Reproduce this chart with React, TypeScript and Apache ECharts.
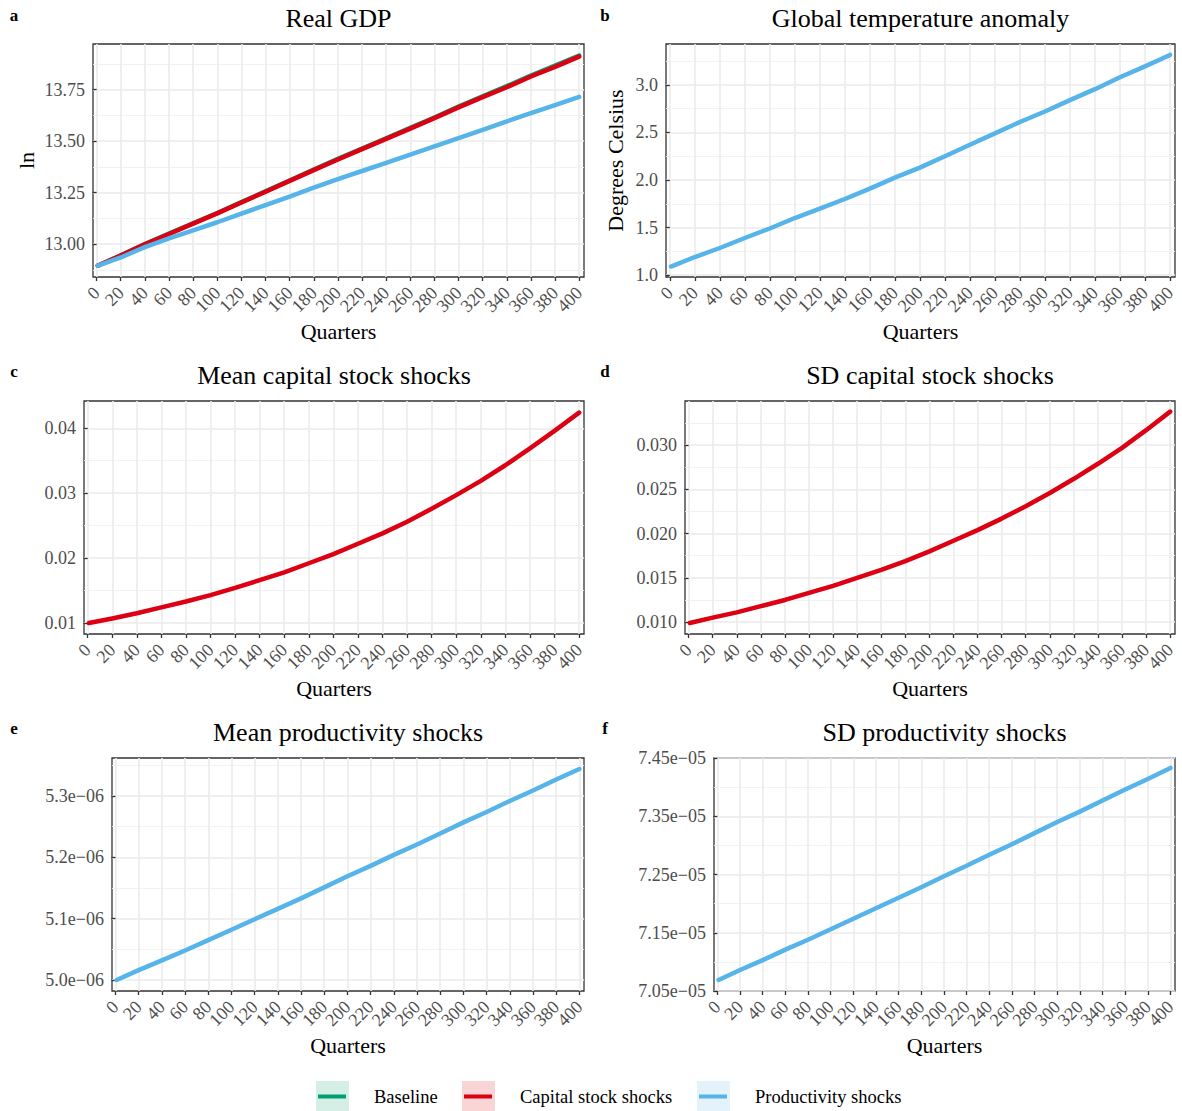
import React, { useEffect, useRef } from 'react';
import * as echarts from 'echarts';

// ---------------- data ----------------
const quarters = [1, 20, 40, 60, 80, 100, 120, 140, 160, 180, 200, 220, 240, 260, 280, 300, 320, 340, 360, 380, 400];
const xTicks = [0, 20, 40, 60, 80, 100, 120, 140, 160, 180, 200, 220, 240, 260, 280, 300, 320, 340, 360, 380, 400];

// a: Real GDP (ln)
const gdpBaseline = [12.895, 12.945, 13.0, 13.051, 13.101, 13.151, 13.204, 13.256, 13.309, 13.362, 13.414, 13.464, 13.514, 13.565, 13.615, 13.668, 13.718, 13.767, 13.819, 13.867, 13.916];
const gdpCapital = [12.895, 12.944, 12.999, 13.049, 13.099, 13.149, 13.202, 13.254, 13.307, 13.359, 13.411, 13.461, 13.511, 13.561, 13.612, 13.664, 13.714, 13.762, 13.814, 13.861, 13.911];
const gdpProductivity = [12.895, 12.935, 12.985, 13.028, 13.067, 13.106, 13.148, 13.189, 13.231, 13.274, 13.316, 13.355, 13.395, 13.435, 13.475, 13.515, 13.555, 13.596, 13.636, 13.675, 13.715];
const gdpTicks = [13.0, 13.25, 13.5, 13.75];
const gdpTickLabels = ['13.00', '13.25', '13.50', '13.75'];
const gdpMinor = [12.875, 13.125, 13.375, 13.625, 13.875];

// b: Global temperature anomaly
const temperature = [1.09, 1.19, 1.285, 1.39, 1.49, 1.6, 1.7, 1.8, 1.91, 2.025, 2.13, 2.25, 2.37, 2.49, 2.61, 2.72, 2.84, 2.955, 3.08, 3.195, 3.315];
const tempTicks = [1.0, 1.5, 2.0, 2.5, 3.0];
const tempTickLabels = ['1.0', '1.5', '2.0', '2.5', '3.0'];
const tempMinor = [1.25, 1.75, 2.25, 2.75, 3.25];

// c: Mean capital stock shocks
const meanCapital = [0.01, 0.0107, 0.0115, 0.0124, 0.0133, 0.0143, 0.0154, 0.0166, 0.0178, 0.0192, 0.0206, 0.0222, 0.0238, 0.0256, 0.0276, 0.0297, 0.0319, 0.0343, 0.0369, 0.0396, 0.0424];
const meanCapTicks = [0.01, 0.02, 0.03, 0.04];
const meanCapTickLabels = ['0.01', '0.02', '0.03', '0.04'];
const meanCapMinor = [0.015, 0.025, 0.035];

// d: SD capital stock shocks
const sdCapital = [0.0099, 0.0105, 0.0111, 0.0118, 0.0125, 0.0133, 0.0141, 0.015, 0.0159, 0.0169, 0.018, 0.0192, 0.0204, 0.0217, 0.0231, 0.0246, 0.0262, 0.0279, 0.0297, 0.0317, 0.0338];
const sdCapTicks = [0.01, 0.015, 0.02, 0.025, 0.03];
const sdCapTickLabels = ['0.010', '0.015', '0.020', '0.025', '0.030'];
const sdCapMinor = [0.0125, 0.0175, 0.0225, 0.0275, 0.0325];

// e: Mean productivity shocks
const meanProd = [5.0e-6, 5.016e-6, 5.032e-6, 5.048e-6, 5.065e-6, 5.082e-6, 5.099e-6, 5.116e-6, 5.133e-6, 5.151e-6, 5.169e-6, 5.186e-6, 5.204e-6, 5.221e-6, 5.239e-6, 5.257e-6, 5.274e-6, 5.292e-6, 5.309e-6, 5.327e-6, 5.344e-6];
const meanProdTicks = [5.0e-6, 5.1e-6, 5.2e-6, 5.3e-6];
const meanProdTickLabels = ['5.0e\u221206', '5.1e\u221206', '5.2e\u221206', '5.3e\u221206'];
const meanProdMinor = [5.05e-6, 5.15e-6, 5.25e-6, 5.35e-6];

// f: SD productivity shocks
const sdProd = [7.069e-5, 7.086e-5, 7.103e-5, 7.121e-5, 7.138e-5, 7.156e-5, 7.174e-5, 7.192e-5, 7.21e-5, 7.228e-5, 7.247e-5, 7.265e-5, 7.284e-5, 7.302e-5, 7.321e-5, 7.34e-5, 7.358e-5, 7.377e-5, 7.396e-5, 7.414e-5, 7.433e-5];
const sdProdTicks = [7.05e-5, 7.15e-5, 7.25e-5, 7.35e-5, 7.45e-5];
const sdProdTickLabels = ['7.05e\u221205', '7.15e\u221205', '7.25e\u221205', '7.35e\u221205', '7.45e\u221205'];
const sdProdMinor = [7.1e-5, 7.2e-5, 7.3e-5, 7.4e-5];

const legendNames = ['Baseline', 'Capital stock shocks', 'Productivity shocks'];

// ---------------- style / layout ----------------
const FONT = "'Liberation Serif', 'Times New Roman', Times, serif";
const COLORS: Record<string, string> = {
  'Baseline': '#009E73',
  'Capital stock shocks': '#DD0012',
  'Productivity shocks': '#56B4E9',
};
const KEY_BG: Record<string, string> = {
  'Baseline': '#D5EFE6',
  'Capital stock shocks': '#F9D5D6',
  'Productivity shocks': '#E3F2FB',
};

type Panel = {
  tag: string; title: string; yName?: string; yNameGap?: number;
  left: number; top: number; width: number; height: number;
  yMin: number; yMax: number; ticks: number[]; labels: string[]; minor: number[];
  series: { name: string; values: number[] }[];
};

const panels: Panel[] = [
  { tag: 'a', title: 'Real GDP', yName: 'ln', yNameGap: 56, left: 93, top: 44, width: 491, height: 233,
    yMin: 12.84, yMax: 13.972, ticks: gdpTicks, labels: gdpTickLabels, minor: gdpMinor,
    series: [{ name: 'Baseline', values: gdpBaseline }, { name: 'Capital stock shocks', values: gdpCapital }, { name: 'Productivity shocks', values: gdpProductivity }] },
  { tag: 'b', title: 'Global temperature anomaly', yName: 'Degrees Celsius', yNameGap: 40, left: 666, top: 44, width: 509, height: 233,
    yMin: 0.98, yMax: 3.43, ticks: tempTicks, labels: tempTickLabels, minor: tempMinor,
    series: [{ name: 'Productivity shocks', values: temperature }] },
  { tag: 'c', title: 'Mean capital stock shocks', left: 84, top: 401, width: 500, height: 233,
    yMin: 0.0083, yMax: 0.0442, ticks: meanCapTicks, labels: meanCapTickLabels, minor: meanCapMinor,
    series: [{ name: 'Capital stock shocks', values: meanCapital }] },
  { tag: 'd', title: 'SD capital stock shocks', left: 685, top: 401, width: 490, height: 233,
    yMin: 0.00865, yMax: 0.035, ticks: sdCapTicks, labels: sdCapTickLabels, minor: sdCapMinor,
    series: [{ name: 'Capital stock shocks', values: sdCapital }] },
  { tag: 'e', title: 'Mean productivity shocks', left: 112, top: 758, width: 472, height: 233,
    yMin: 4.982e-6, yMax: 5.362e-6, ticks: meanProdTicks, labels: meanProdTickLabels, minor: meanProdMinor,
    series: [{ name: 'Productivity shocks', values: meanProd }] },
  { tag: 'f', title: 'SD productivity shocks', left: 714, top: 758, width: 461, height: 233,
    yMin: 7.05e-5, yMax: 7.45e-5, ticks: sdProdTicks, labels: sdProdTickLabels, minor: sdProdMinor,
    series: [{ name: 'Productivity shocks', values: sdProd }] },
];

const tagPos = [
  { x: 14, y: 15 }, { x: 605, y: 15 },
  { x: 14, y: 371 }, { x: 605, y: 371 },
  { x: 14, y: 728 }, { x: 605, y: 728 },
];

const legendPos = [318, 464, 699];

function nearestLabel(vals: number[], labels: string[]) {
  return (v: number) => {
    let best = 0;
    for (let i = 1; i < vals.length; i++) {
      if (Math.abs(vals[i] - v) < Math.abs(vals[best] - v)) best = i;
    }
    return labels[best];
  };
}

function buildOption() {
  const grid: any[] = [];
  const xAxis: any[] = [];
  const yAxis: any[] = [];
  const series: any[] = [];
  const graphic: any[] = [];

  // labels split over two bottom axes so that neighbouring rotated labels are never auto-hidden
  const xLabelsEven = xTicks.filter((_, k) => k % 2 === 0);
  const xLabelsOdd = xTicks.filter((_, k) => k % 2 === 1);
  const xLabelStyle = {
    rotate: 45, margin: 13, fontFamily: FONT, fontSize: 18, color: '#4D4D4D',
    align: 'right', verticalAlign: 'middle',
    showMinLabel: true, showMaxLabel: true, hideOverlap: false,
    formatter: (v: number) => String(Math.round(v)),
  };

  panels.forEach((p, i) => {
    grid.push({
      left: p.left, top: p.top, width: p.width, height: p.height,
      show: true, borderColor: '#333333', borderWidth: 1.3, backgroundColor: '#FFFFFF',
      containLabel: false, outerBoundsMode: 'none',
    });
    xAxis.push({
      type: 'value', gridIndex: i, position: 'bottom', min: -3, max: 404,
      name: 'Quarters', nameLocation: 'middle', nameGap: 43, nameMoveOverlap: false,
      nameTextStyle: { fontFamily: FONT, fontSize: 22, color: '#000000' },
      axisLine: { show: false },
      axisTick: { show: true, length: 4, lineStyle: { color: '#333333', width: 1.3 }, customValues: xTicks },
      axisLabel: { ...xLabelStyle, customValues: xLabelsEven },
      splitLine: { show: true, lineStyle: { color: '#EBEBEB', width: 1.6 } },
    });
    xAxis.push({
      type: 'value', gridIndex: i, position: 'bottom', offset: 0, min: -3, max: 404,
      axisLine: { show: false },
      axisTick: { show: false, customValues: xLabelsOdd },
      axisLabel: { ...xLabelStyle, customValues: xLabelsOdd, showMinLabel: null, showMaxLabel: null },
      splitLine: { show: false },
    });
    yAxis.push({
      type: 'value', gridIndex: i, position: 'left', min: p.yMin, max: p.yMax,
      name: p.yName || '', nameLocation: 'middle', nameGap: p.yNameGap || 40, nameRotate: 90, nameMoveOverlap: false,
      nameTextStyle: { fontFamily: FONT, fontSize: 22, color: '#000000' },
      axisLine: { show: false },
      axisTick: { show: true, length: 4, lineStyle: { color: '#333333', width: 1.3 }, customValues: p.ticks },
      axisLabel: { customValues: p.ticks, margin: 8, fontFamily: FONT, fontSize: 18, color: '#4D4D4D',
        showMinLabel: true, showMaxLabel: true, hideOverlap: false,
        formatter: nearestLabel(p.ticks, p.labels) },
      splitLine: { show: true, lineStyle: { color: '#EBEBEB', width: 1.6 } },
    });
    yAxis.push({
      type: 'value', gridIndex: i, position: 'right', min: p.yMin, max: p.yMax,
      axisLine: { show: false },
      axisTick: { show: false, customValues: p.minor },
      axisLabel: { show: false, customValues: p.minor },
      splitLine: { show: true, lineStyle: { color: '#F0F0F0', width: 0.9 } },
    });
    p.series.forEach((s) => {
      series.push({
        type: 'line', name: s.name, xAxisIndex: 2 * i, yAxisIndex: 2 * i,
        data: quarters.map((q, k) => [q, s.values[k]]),
        showSymbol: false, symbol: 'none', smooth: false,
        lineStyle: { width: 4.5, color: COLORS[s.name], cap: 'round', join: 'round' },
        itemStyle: { color: COLORS[s.name] },
        emphasis: { disabled: true },
      });
    });
    graphic.push({
      type: 'text', x: p.left + p.width / 2, y: p.top - 26,
      style: { text: p.title, fontFamily: FONT, fontSize: 26, fill: '#000000',
        textAlign: 'center', align: 'center', textVerticalAlign: 'middle', verticalAlign: 'middle' },
    });
    graphic.push({
      type: 'text', x: tagPos[i].x, y: tagPos[i].y,
      style: { text: p.tag, fontFamily: FONT, fontSize: 17, fontWeight: 'bold', fill: '#000000',
        textAlign: 'center', align: 'center', textVerticalAlign: 'middle', verticalAlign: 'middle' },
    });
  });

  legendNames.forEach((n, k) => {
    graphic.push({
      type: 'rect', shape: { x: legendPos[k] - 2, y: 1081, width: 33, height: 32 },
      style: { fill: KEY_BG[n] }, z: 0,
    });
  });

  const legend = legendNames.map((n, k) => ({
    data: [n], left: legendPos[k], top: 1087, padding: 0, selectedMode: false,
    icon: 'rect', itemWidth: 28, itemHeight: 4,
    itemStyle: { color: COLORS[n] },
    textStyle: { fontFamily: FONT, fontSize: 18.5, color: '#000000', padding: [0, 0, 0, 23] },
  }));

  return {
    animation: false,
    backgroundColor: '#FFFFFF',
    grid, xAxis, yAxis, series, legend, graphic,
    tooltip: { show: false },
  };
}

export default function App() {
  const ref = useRef<HTMLDivElement>(null);
  useEffect(() => {
    document.body.style.margin = '0';
    const chart = echarts.init(ref.current!, null, { renderer: 'svg' });
    chart.setOption(buildOption() as any);
    return () => chart.dispose();
  }, []);
  return (
    <div
      ref={ref}
      style={{ position: 'absolute', left: 0, top: 0, width: 1182, height: 1111, background: '#FFFFFF' }}
    />
  );
}
